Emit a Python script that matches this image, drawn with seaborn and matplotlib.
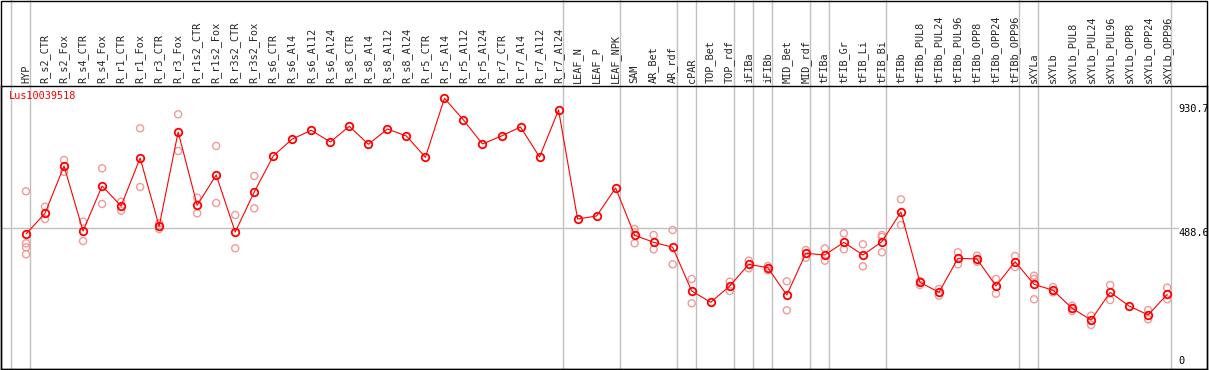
import numpy as np
import pandas as pd
import matplotlib
matplotlib.use("Agg")
import matplotlib.pyplot as plt
from matplotlib.patches import Rectangle
import seaborn as sns

categories = ["HYP", "R_s2_CTR", "R_s2_Fox", "R_s4_CTR", "R_s4_Fox", "R_r1_CTR", "R_r1_Fox",
              "R_r3_CTR", "R_r3_Fox", "R_r1s2_CTR", "R_r1s2_Fox", "R_r3s2_CTR", "R_r3s2_Fox",
              "R_s6_CTR", "R_s6_Al4", "R_s6_Al12", "R_s6_Al24", "R_s8_CTR", "R_s8_Al4",
              "R_s8_Al12", "R_s8_Al24", "R_r5_CTR", "R_r5_Al4", "R_r5_Al12", "R_r5_Al24",
              "R_r7_CTR", "R_r7_Al4", "R_r7_Al12", "R_r7_Al24", "LEAF_N", "LEAF_P", "LEAF_NPK",
              "SAM", "AR_Bet", "AR_rdf", "cPAR", "TOP_Bet", "TOP_rdf", "iFIBa", "iFIBb",
              "MID_Bet", "MID_rdf", "tFIBa", "tFIB_Gr", "tFIB_Li", "tFIB_Bi", "tFIBb",
              "tFIBb_PUL8", "tFIBb_PUL24", "tFIBb_PUL96", "tFIBb_OPP8", "tFIBb_OPP24",
              "tFIBb_OPP96", "sXYLa", "sXYLb", "sXYLb_PUL8", "sXYLb_PUL24", "sXYLb_PUL96",
              "sXYLb_OPP8", "sXYLb_OPP24", "sXYLb_OPP96"]

means = [468.4, 541.9, 709.7, 479.1, 638.7, 567.8, 738.1, 495.7, 830.4, 570.3, 677.8, 475.5,
         617.5, 745.2, 805.5, 836.4, 794.9, 850.6, 786.7, 841.0, 816.2, 740.6, 950.0, 873.0,
         787.8, 816.2, 848.1, 741.7, 908.4, 521.6, 532.3, 631.7, 463.8, 439.0, 421.2, 266.1,
         226.0, 283.9, 360.9, 348.8, 252.0, 399.9, 393.9, 439.0, 393.9, 441.1, 546.5, 297.0,
         261.5, 382.2, 379.7, 283.9, 370.1, 289.9, 268.6, 204.8, 163.2, 261.5, 212.9, 181.0,
         254.4]

nan = np.nan
rep_a = [619.9, 565.3, 731.0, 512.1, 701.6, 583.0, 843.5, 506.4, 893.2, 597.2, 780.7, 535.8,
         674.2, nan, nan, nan, nan, nan, nan, nan, nan, nan, nan, nan, nan, nan, nan, nan, nan,
         nan, nan, nan, 486.2, 464.9, 482.6, 308.7, nan, 299.2, 373.7, 354.9, 300.6, 411.6,
         417.7, 470.9, 431.9, 464.9, 591.5, 301.6, 273.2, 403.5, 391.4, 308.7, 390.3, 320.4,
         280.3, 214.0, 178.5, 287.4, nan, 198.7, 277.9]
rep_b = [435.4, 521.6, 689.0, 443.6, 574.9, 551.1, 635.2, 486.2, 763.0, 541.9, 578.4, 417.7,
         559.6, nan, nan, nan, nan, nan, nan, nan, nan, nan, nan, nan, nan, nan, nan, nan, nan,
         nan, nan, nan, 435.4, 414.1, 360.9, 222.5, nan, 266.1, 346.7, 339.6, 197.7, 384.3,
         373.7, 414.1, 353.8, 403.5, 500.4, 287.4, 249.5, 360.9, 370.1, 256.6, 351.3, 308.7,
         261.5, 195.2, 145.5, 234.2, nan, 165.7, 236.7]
rep_c = [421.2, nan, nan, nan, nan, nan, nan, nan, nan, nan, nan, nan, nan, nan, nan, nan, nan,
         nan, nan, nan, nan, nan, nan, nan, nan, nan, nan, nan, nan, nan, nan, nan, 475.5, nan,
         nan, nan, nan, nan, nan, nan, nan, nan, nan, nan, nan, 457.8, nan, nan, nan, nan, nan,
         nan, nan, 236.7, nan, nan, nan, nan, nan, nan, nan]
rep_d = [396.4] + [nan] * 60

y_marks = [930.7, 488.6, 0]
group_ends = [-1, 0, 28, 31, 34, 35, 37, 38, 39, 41, 42, 45, 52, 53, 60]
title = "Lus10039518"

# ---- build frames
pos = np.arange(len(categories))
df_mean = pd.DataFrame({"pos": pos, "value": means})
reps = []
for r in (rep_a, rep_b, rep_c, rep_d):
    reps.append(pd.DataFrame({"pos": pos, "value": r}))
df_rep = pd.concat(reps).dropna()

sns.set_theme(style="white")
plt.rcParams["font.family"] = ["DejaVu Sans Mono", "DejaVu Sans"]

W, H = 1209, 370
fig = plt.figure(figsize=(W / 100, H / 100), dpi=100)
ax_top_px = 86
ax_bot_px = 369
ax_left_px = 1
ax_right_px = 1207
ax = fig.add_axes([ax_left_px / W, (H - ax_bot_px) / H,
                   (ax_right_px - ax_left_px) / W, (ax_bot_px - ax_top_px) / H])

step = 19.02
x0 = 26
ax.set_xlim((ax_left_px - x0) / step, (ax_right_px - x0) / step)
slope = 0.2818  # px per unit
zero_px = 366
ax.set_ylim(-(ax_bot_px - zero_px) / slope, (zero_px - ax_top_px) / slope)

grid_col = "#c0c0c0"
ymax_ext = 1 + ax_top_px / (ax_bot_px - ax_top_px)
for g in group_ends:
    ax.axvline(g + 0.21, ymin=0, ymax=ymax_ext, color=grid_col, lw=1.0, clip_on=False, zorder=0)
ax.axhline(488.6, xmin=0, xmax=(1178 - ax_left_px) / (ax_right_px - ax_left_px),
           color=grid_col, lw=1.0, zorder=0)

sns.scatterplot(data=df_rep, x="pos", y="value", ax=ax, marker="o", s=26,
                facecolor="none", edgecolor="#f09a9a", linewidth=1.0, zorder=2, legend=False)
sns.lineplot(data=df_mean, x="pos", y="value", ax=ax, color="red", lw=0.8,
             marker="o", markersize=5.4, markerfacecolor="none", markeredgecolor="red",
             markeredgewidth=1.3, zorder=3, legend=False)

ax.set_xlabel("")
ax.set_ylabel("")
ax.set_yticks([])
ax.set_xticks(pos)
ax.set_xticklabels(categories, rotation=90, fontsize=7.4, va="bottom", ha="center")
ax.xaxis.tick_top()
ax.tick_params(axis="x", length=0, pad=2.3, top=True, bottom=False)

for s in ax.spines.values():
    s.set_color("black")
    s.set_linewidth(1.0)

trans = ax.get_yaxis_transform()
xlab = (1178 - ax_left_px) / (ax_right_px - ax_left_px)
for v in y_marks:
    ax.text(xlab, v, f"{v:g}" if v != 0 else "0", transform=trans, fontsize=7.4,
            va="top" if v != 0 else "bottom", ha="left", color="black", zorder=4)

ax.text((9 - ax_left_px) / (ax_right_px - ax_left_px),
        (ax_bot_px - 91) / (ax_bot_px - ax_top_px), title, transform=ax.transAxes,
        color="red", fontsize=7.4, va="top", ha="left")

fig.patches.append(Rectangle((ax_left_px / W, (H - ax_bot_px) / H),
                             (ax_right_px - ax_left_px) / W, (ax_bot_px - 0.5) / H,
                             transform=fig.transFigure, fill=False, edgecolor="black", lw=1.0))

fig.savefig("out.png", dpi=100)
